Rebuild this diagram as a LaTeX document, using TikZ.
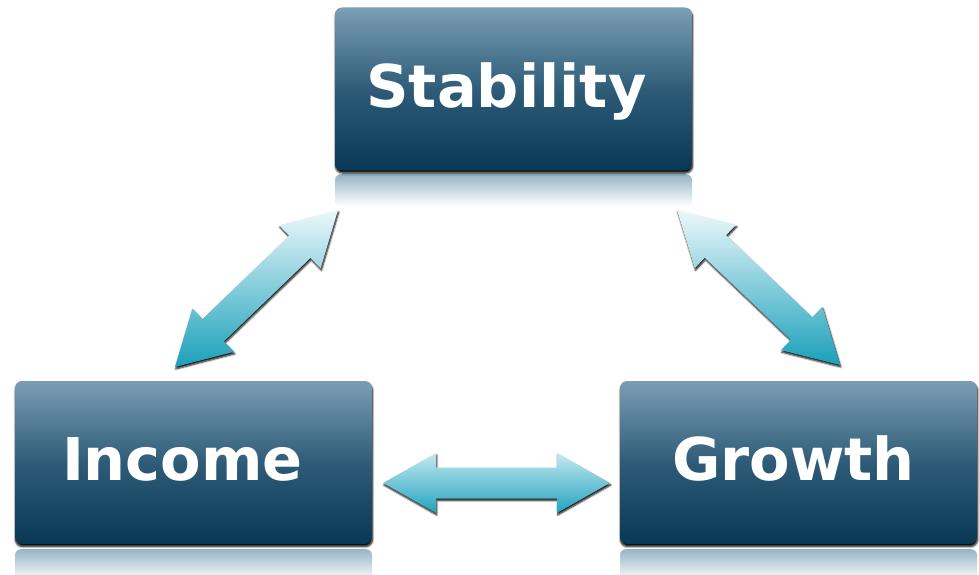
\documentclass[tikz,border=0pt]{standalone}
\usepackage{fontspec}
\newfontfamily\boxfont{DejaVu Sans}
\usetikzlibrary{calc,shadows,shadows.blur,positioning}
\definecolor{boxtop}{RGB}{122,158,180}
\definecolor{boxmid}{RGB}{46,92,120}
\definecolor{boxbot}{RGB}{8,56,84}
\definecolor{arrlight}{RGB}{236,248,251}
\definecolor{arrdark}{RGB}{26,160,186}
\definecolor{hlight}{RGB}{196,233,241}
\definecolor{hdark}{RGB}{34,163,189}
\definecolor{reftop}{RGB}{150,180,198}
\tikzset{
  box/.style={rectangle, rounded corners=7pt, minimum width=357pt, minimum height=163pt,
    top color=boxtop, bottom color=boxbot, middle color=boxmid, text=white,
    font=\boxfont\bfseries\fontsize{59}{59}\selectfont, text height=48pt, text depth=12pt,
    blur shadow={shadow xshift=0.5pt, shadow yshift=-2.5pt, shadow blur radius=2pt,
      shadow blur steps=6, shadow opacity=100}},
  refl/.style={rectangle, rounded corners=6pt, minimum width=357pt, minimum height=32pt,
    inner sep=0pt, top color=reftop, bottom color=white},
  barrow/.style={top color=arrlight, bottom color=arrdark,
    blur shadow={shadow xshift=0.8pt, shadow yshift=-2pt, shadow blur radius=1.8pt,
      shadow blur steps=5, shadow opacity=95}},
  harrow/.style={top color=hlight, bottom color=hdark},
}
\newcommand\blockarrow[3][]{%
  \coordinate (hA) at ($(#2)!53pt!(#3)$);
  \coordinate (hB) at ($(#3)!53pt!(#2)$);
  \path[barrow,#1] (#2) -- ($(hA)!30pt!90:(#2)$) -- ($(hA)!15.5pt!90:(#2)$)
    -- ($(hB)!15.5pt!-90:(#3)$) -- ($(hB)!30pt!-90:(#3)$) -- (#3)
    -- ($(hB)!30pt!90:(#3)$) -- ($(hB)!15.5pt!90:(#3)$)
    -- ($(hA)!15.5pt!-90:(#2)$) -- ($(hA)!30pt!-90:(#2)$) -- cycle;
}
\begin{document}
\begin{tikzpicture}[x=1pt,y=-1pt]
\useasboundingbox (0,0) rectangle (979,575);
\node[refl, anchor=north] (stR) at (513.5,174) {};
\node[refl, anchor=north] (inR) at (193.5,549) {};
\node[refl, anchor=north] (grR) at (798.5,549) {};
\node[box] (st) at (513.5,89) {Stability\rule{14pt}{0pt}};
\node[box] (in) at (193.5,462.5) {Income\rule{22pt}{0pt}};
\node[box] (gr) at (798.5,462.5) {Growth\rule{10pt}{0pt}};
\coordinate (a1) at (338,210);
\coordinate (b1) at (175,367);
\coordinate (a2) at (677,210);
\coordinate (b2) at (840,365);
\coordinate (a3) at (383,483);
\coordinate (b3) at (610,483);
\blockarrow{a1}{b1}
\blockarrow{a2}{b2}
\blockarrow[harrow]{a3}{b3}
\end{tikzpicture}
\end{document}
